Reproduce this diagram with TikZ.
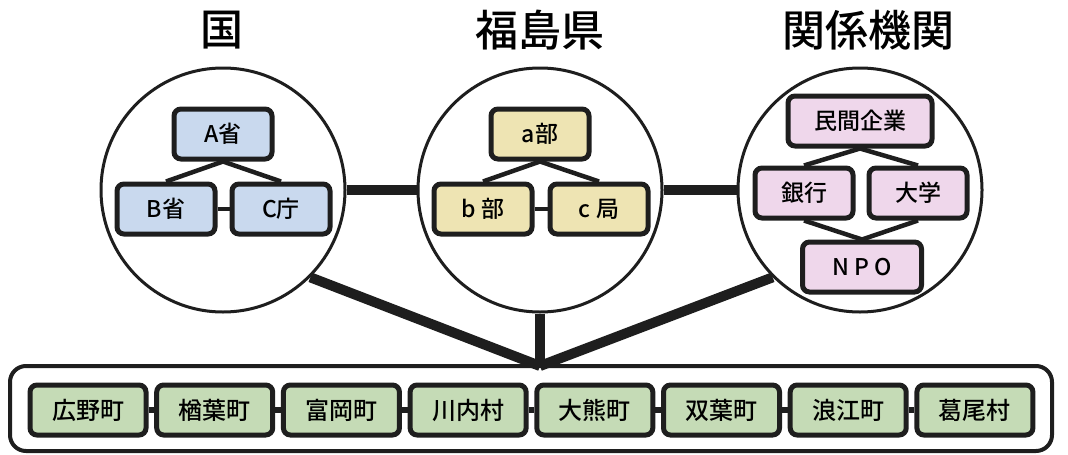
\documentclass[tikz,border=0pt]{standalone}
\usepackage{fontspec}
\setmainfont{Noto Sans CJK JP}
\newfontfamily\cjkmedium{Noto Sans CJK JP Medium}
\definecolor{kuniblue}{HTML}{C9D9EE}
\definecolor{kenyellow}{HTML}{EEE4B3}
\definecolor{sekipink}{HTML}{EFD7EB}
\definecolor{towngreen}{HTML}{C5DBB6}
\definecolor{inkline}{HTML}{1E1E1E}
\tikzset{
  orgbox/.style={draw=inkline, line width=5pt, rounded corners=7pt, minimum width=98pt, minimum height=50pt, inner sep=0pt, font=\cjkmedium\fontsize{23}{26}\selectfont},
  townbox/.style={orgbox, fill=towngreen, minimum width=116pt, font=\cjkmedium\fontsize{24}{27}\selectfont},
  groupcircle/.style={circle, draw=inkline, line width=3pt, minimum size=244pt, inner sep=0pt},
  grouptitle/.style={font=\cjkmedium\fontsize{43}{48}\selectfont},
  bondline/.style={draw=inkline, line width=10pt},
  orglink/.style={draw=inkline, line width=4.5pt},
  townlink/.style={draw=inkline, line width=6pt}
}
\begin{document}
\begin{tikzpicture}[x=1pt,y=-1pt]
\useasboundingbox (0,0) rectangle (1068,455);
% titles
\node[grouptitle] (tkuni) at (222,30) {国};
\node[grouptitle] (tfuku) at (540,30) {福島県};
\node[grouptitle] (tseki) at (868,30) {関係機関};
% circles
\node[groupcircle] (kuni) at (223,190) {};
\node[groupcircle] (fuku) at (540,190) {};
\node[groupcircle] (seki) at (860,190) {};
\draw[bondline] (kuni) -- (fuku);
\draw[bondline] (fuku) -- (seki);
% kuni
\node[orgbox, fill=kuniblue] (a) at (223,134) {A省};
\node[orgbox, fill=kuniblue] (b) at (166,209) {B省};
\node[orgbox, fill=kuniblue] (c) at (281,209) {C庁};
\draw[orglink] (a.south) -- (b.north);
\draw[orglink] (a.south) -- (c.north);
\draw[orglink] (b) -- (c);
% fukushima
\node[orgbox, fill=kenyellow] (ka) at (540,134) {a部};
\node[orgbox, fill=kenyellow] (kb) at (483,209) {b 部};
\node[orgbox, fill=kenyellow] (kc) at (599,209) {c 局};
\draw[orglink] (ka.south) -- (kb.north);
\draw[orglink] (ka.south) -- (kc.north);
\draw[orglink] (kb) -- (kc);
% kankei kikan
\node[orgbox, fill=sekipink, minimum width=144pt] (min) at (860,121) {民間企業};
\node[orgbox, fill=sekipink] (gin) at (804,193) {銀行};
\node[orgbox, fill=sekipink] (dai) at (918,193) {大学};
\node[orgbox, fill=sekipink, minimum width=119pt] (npo) at (862,267) {N P O};
\draw[orglink] (min.south) -- (gin.north);
\draw[orglink] (min.south) -- (dai.north);
\draw[orglink] (npo.north) -- (gin.south);
\draw[orglink] (npo.north) -- (dai.south);
% towns
\draw[draw=inkline, line width=4pt, rounded corners=16pt] (10,366) rectangle (1052,451);
\coordinate (join) at (540,366);
\draw[bondline] (kuni.-45) -- (join);
\draw[bondline] (fuku.south) -- (join);
\draw[bondline] (seki.-135) -- (join);
\foreach \i/\t in {1/広野町,2/楢葉町,3/富岡町,4/川内村,5/大熊町,6/双葉町,7/浪江町,8/葛尾村}
  \node[townbox] (t\i) at ({88+126.7*(\i-1)},410) {\t};
\foreach \a/\b in {1/2,2/3,3/4,4/5,5/6,6/7,7/8} \draw[townlink] (t\a) -- (t\b);
\end{tikzpicture}
\end{document}
